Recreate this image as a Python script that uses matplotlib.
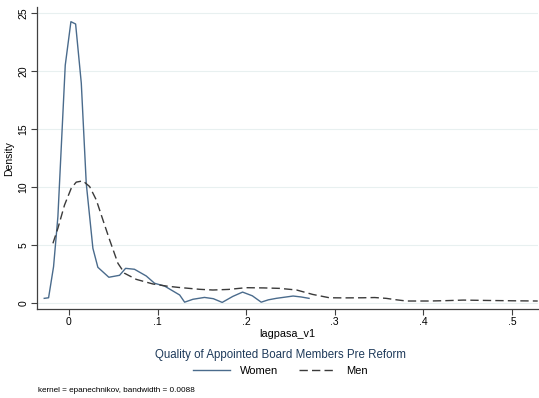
import matplotlib
matplotlib.use("Agg")
import matplotlib.pyplot as plt

plt.rcParams['font.family'] = ['Liberation Sans', 'DejaVu Sans']

# kernel density estimates
women_x = [-0.0278, -0.0229, -0.0173, -0.0124, -0.0041, 0.0023, 0.0076, 0.014,
           0.0196, 0.0271, 0.0327, 0.0451, 0.0572, 0.064, 0.074, 0.0873,
           0.0967, 0.108, 0.125, 0.1306, 0.14, 0.153, 0.163, 0.173, 0.185,
           0.196, 0.207, 0.217, 0.225, 0.234, 0.253, 0.262, 0.271]
women_y = [0.38, 0.43, 3.11, 7.43, 20.5, 24.26, 24.06, 18.96,
           10.3, 4.70, 3.06, 2.20, 2.37, 2.97, 2.89, 2.31,
           1.68, 1.44, 0.67, 0.05, 0.30, 0.46, 0.35, 0.03, 0.55,
           0.92, 0.60, 0.05, 0.25, 0.38, 0.58, 0.50, 0.38]

men_x = [-0.018, -0.0124, -0.0049, 0.0027, 0.0083, 0.0158, 0.0234, 0.0309,
         0.0384, 0.046, 0.0553, 0.0629, 0.076, 0.0948, 0.11, 0.123, 0.1475,
         0.1625, 0.18, 0.2, 0.22, 0.238, 0.257, 0.275, 0.294, 0.31, 0.332,
         0.345, 0.358, 0.37, 0.381, 0.407, 0.425, 0.445, 0.47, 0.501, 0.529]
men_y = [5.13, 6.43, 8.44, 9.89, 10.41, 10.52, 10.03, 8.88,
         7.15, 5.42, 3.41, 2.54, 2.02, 1.62, 1.44, 1.33, 1.16,
         1.10, 1.15, 1.30, 1.28, 1.24, 1.10, 0.72, 0.43, 0.42, 0.43,
         0.45, 0.38, 0.25, 0.15, 0.15, 0.18, 0.23, 0.20, 0.17, 0.15]

xticks = [0, 0.1, 0.2, 0.3, 0.4, 0.5]
xticklabels = ['0', '.1', '.2', '.3', '.4', '.5']
yticks = [0, 5, 10, 15, 20, 25]

fig = plt.figure(figsize=(5.39, 3.98), dpi=100)
ax = fig.add_axes([0.0686, 0.2236, 0.929, 0.758])

ax.plot(women_x, women_y, color='#4a6b8c', lw=1.0, label='Women')
ax.plot(men_x, men_y, color='#3a3a3a', lw=1.0, dashes=(6, 3), label='Men')

ax.set_xlim(-0.036, 0.529)
ax.set_ylim(-0.54, 25.5)
ax.set_xticks(xticks)
ax.set_xticklabels(xticklabels)
ax.set_yticks(yticks)
ax.set_yticklabels([str(t) for t in yticks], rotation=90, va='center')
ax.grid(axis='y', color='#e8f0f0', lw=0.8)
ax.set_axisbelow(True)
for s in ['top', 'right']:
    ax.spines[s].set_visible(False)
for s in ['left', 'bottom']:
    ax.spines[s].set_color('#404040')
    ax.spines[s].set_linewidth(0.9)
ax.tick_params(labelsize=7.5, length=4, width=0.8, color='#404040', pad=2)
ax.set_xlabel('lagpasa_v1', fontsize=7.8, labelpad=1)
ax.set_ylabel('Density', fontsize=7.5, labelpad=3)

fig.text(0.5204, 0.108, 'Quality of Appointed Board Members Pre Reform',
         ha='center', va='center', fontsize=8.3, color='#1e3a5a')
fig.legend(loc='center', bbox_to_anchor=(0.5204, 0.067), ncol=2, frameon=False,
           fontsize=8, handlelength=3.3, columnspacing=1.9, handletextpad=0.9)
fig.text(0.07, 0.018, 'kernel = epanechnikov, bandwidth = 0.0088',
         ha='left', va='center', fontsize=5.85)

fig.savefig('out.png', dpi=100)
